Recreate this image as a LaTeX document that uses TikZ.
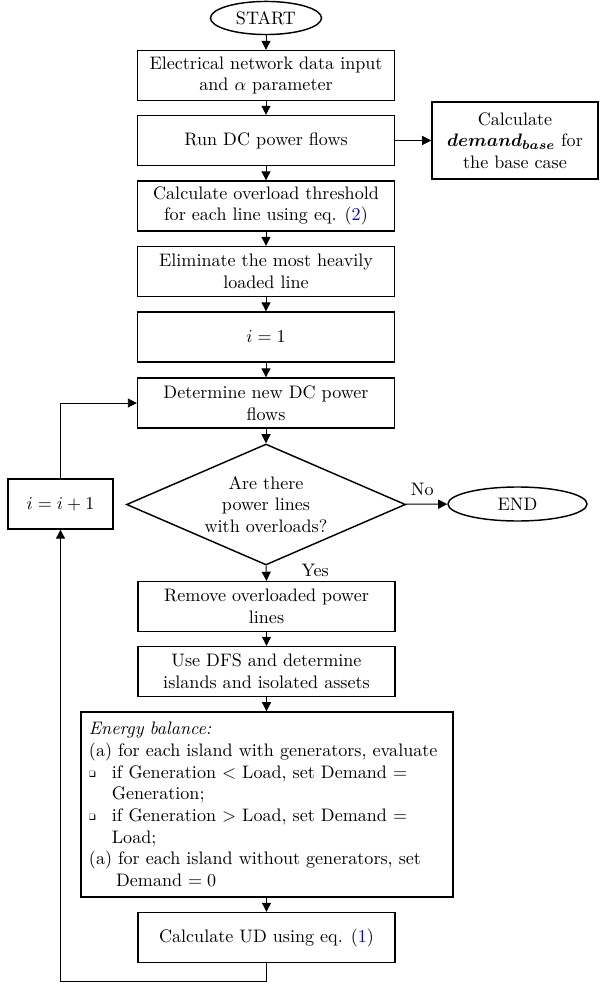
\documentclass[tikz,border=0pt]{standalone}
\usepackage{amsmath,bm}
\usepackage{pifont}
\usetikzlibrary{shapes.geometric,arrows.meta}
\newcommand{\sqbul}{\makebox[12.7pt][l]{\raisebox{0.6pt}{\fontsize{5}{6}\selectfont\ding{113}}}}
\begin{document}
\begin{tikzpicture}[x=0.553pt,y=-0.553pt,
  box/.style={draw,line width=0.8pt,rectangle,align=center,minimum width=142.1pt,minimum height=27.6pt,inner sep=1pt},
  term/.style={draw,line width=0.8pt,ellipse,inner sep=0pt},
  arr/.style={-{Triangle[length=5pt,width=5pt]},line width=0.55pt},
  line/.style={line width=0.55pt}]
\useasboundingbox (0,0) rectangle (600,985);
\node[term,minimum width=61.4pt,minimum height=18.3pt] (start) at (266,18) {START};
\node[box] (n1) at (266,75.5) {Electrical network data input\\and $\alpha$ parameter};
\node[box] (n2) at (266,140.5) {Run DC power flows};
\node[box,minimum width=91.8pt,minimum height=42.6pt] (side) at (515,140.5) {Calculate\\$\bm{demand}_{\bm{base}}$ for\\the base case};
\node[box] (n3) at (266,206) {Calculate overload threshold\\for each line using eq. (\textcolor{blue}{2})};
\node[box] (n4) at (266,271.5) {Eliminate the most heavily\\loaded line};
\node[box] (n5) at (266,337) {$i=1$};
\node[box] (n6) at (266,403) {Determine new DC power\\flows};
\node[draw,line width=0.8pt,diamond,shape aspect=2.306,inner sep=0pt,minimum width=154.3pt,minimum height=66.9pt,align=center] (dia) at (266,504.5) {Are there\\power lines\\with overloads?};
\node[box,minimum width=58.1pt] (inc) at (60.5,504) {$i=i+1$};
\node[term,minimum width=76.9pt,minimum height=18.8pt] (end) at (517.5,504) {END};
\node[box] (n7) at (266.5,606.5) {Remove overloaded power\\lines};
\node[box] (n8) at (266.5,671.5) {Use DFS and determine\\islands and isolated assets};
\node[draw,line width=0.8pt,text width=196.9pt,align=left,inner xsep=4.4pt,inner ysep=1pt,minimum height=102.3pt] (eb) at (267,804.5) {\textit{Energy balance:}\\
(a) for each island with generators, evaluate\\
\sqbul if Generation $<$ Load, set Demand $=$\\
\hspace*{12.7pt}Generation;\\
\sqbul if Generation $>$ Load, set Demand $=$\\
\hspace*{12.7pt}Load;\\
(a) for each island without generators, set\\
\hspace*{15pt}Demand $=0$};
\node[box] (ud) at (266.5,937.5) {Calculate UD using eq. (\textcolor{blue}{1})};
\coordinate (lb1) at (266.5,981);
\coordinate (lb2) at (60.5,981);
\coordinate (lt) at (60.5,403);

\draw[arr] (start) -- (n1);
\draw[arr] (n1) -- (n2);
\draw[arr] (n2) -- (side);
\draw[arr] (n2) -- (n3);
\draw[arr] (n3) -- (n4);
\draw[arr] (n4) -- (n5);
\draw[arr] (n5) -- (n6);
\draw[arr] (n6) -- (dia);
\draw[arr] (dia) -- node[above,pos=0.4,yshift=1pt]{No} (end);
\draw[arr] (dia.south) -- node[right,pos=0.3,xshift=16pt]{Yes} (n7.north);
\draw[arr] (n7) -- (n8);
\draw[arr] (n8) -- (eb.north -| n8);
\draw[arr] (eb.south -| ud) -- (ud);
\draw[arr] (ud.south) -- (lb1) -- (lb2) -- (inc.south);
\draw[arr] (inc.north) -- (lt) -- (n6.west);
\end{tikzpicture}
\end{document}
